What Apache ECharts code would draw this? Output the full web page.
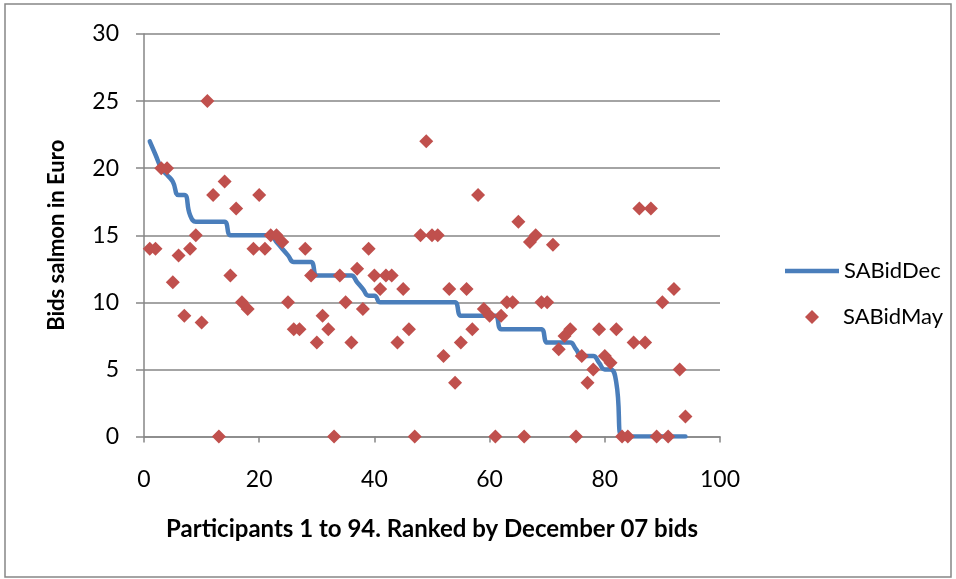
<!DOCTYPE html>
<html>
<head>
<meta charset="utf-8">
<script src="https://cdn.jsdelivr.net/npm/echarts@6/dist/echarts.min.js"></script>
<style>
  html, body { margin: 0; padding: 0; background: #ffffff; }
  #chart { width: 956px; height: 579px; }
</style>
</head>
<body>
<div id="chart"></div>
<script>
// December 07 bids, participants ranked 1..94
const bidDec = [
  22, 21, 20, 19.5, 19, 18, 18, 16.5, 16, 16,
  16, 16, 16, 16, 15, 15, 15, 15, 15, 15,
  15, 15, 14.5, 14, 13.5, 13, 13, 13, 13, 12,
  12, 12, 12, 12, 12, 12, 11.5, 11, 10.5, 10.5,
  10, 10, 10, 10, 10, 10, 10, 10, 10, 10,
  10, 10, 10, 10, 9, 9, 9, 9, 9, 9,
  9, 8, 8, 8, 8, 8, 8, 8, 8, 7,
  7, 7, 7, 7, 6.5, 6, 6, 6, 5.5, 5,
  5, 4, 0, 0, 0, 0, 0, 0, 0, 0,
  0, 0, 0, 0
];

// May bids of the same participants, in the same order
const bidMay = [
  14, 14, 20, 20, 11.5, 13.5, 9, 14, 15, 8.5,
  25, 18, 0, 19, 12, 17, 10, 9.5, 14, 18,
  14, 15, 15, 14.5, 10, 8, 8, 14, 12, 7,
  9, 8, 0, 12, 10, 7, 12.5, 9.5, 14, 12,
  11, 12, 12, 7, 11, 8, 0, 15, 22, 15,
  15, 6, 11, 4, 7, 11, 8, 18, 9.5, 9,
  0, 9, 10, 10, 16, 0, 14.5, 15, 10, 10,
  14.3, 6.5, 7.5, 8, 0, 6, 4, 5, 8, 6,
  5.5, 8, 0, 0, 7, 17, 7, 17, 0, 10,
  0, 11, 5, 1.5
];

const xTicks = { min: 0, max: 100, interval: 20 };
const yTicks = { min: 0, max: 30, interval: 5 };

const decPoints = bidDec.map((v, i) => [i + 1, v]);
const mayPoints = bidMay.map((v, i) => [i + 1, v]);

const FONT = 'Lato, "Open Sans", sans-serif';
const AXIS_GREY = '#868686';
const BLUE = '#4A7EBB';
const RED = '#C0504D';

const chart = echarts.init(document.getElementById('chart'), null, { renderer: 'canvas' });

chart.setOption({
  backgroundColor: '#ffffff',
  animation: false,
  textStyle: { fontFamily: FONT },
  graphic: [{
    type: 'rect',
    shape: { x: 5, y: 4, width: 946, height: 573 },
    style: { fill: 'none', stroke: AXIS_GREY, lineWidth: 1.5 },
    silent: true,
    z: -1
  }],
  grid: { left: 144, right: 236, top: 34, bottom: 142.5, containLabel: false },
  legend: [{
    data: [{ name: 'SABidDec', icon: 'rect' }],
    orient: 'vertical',
    left: 780,
    top: 255,
    itemWidth: 54,
    itemHeight: 4.5,
    itemStyle: { color: BLUE },
    textStyle: { fontFamily: FONT, fontSize: 22, color: '#000' }
  }, {
    data: ['SABidMay'],
    orient: 'vertical',
    left: 800,
    top: 301,
    itemWidth: 14,
    itemHeight: 14,
    itemStyle: { color: RED, opacity: 1 },
    textStyle: { fontFamily: FONT, fontSize: 22, color: '#000', padding: [0, 0, 0, 19] }
  }],
  xAxis: {
    type: 'value',
    min: xTicks.min,
    max: xTicks.max,
    interval: xTicks.interval,
    name: 'Participants 1 to 94. Ranked by December 07 bids',
    nameLocation: 'middle',
    nameGap: 81,
    nameTextStyle: { fontFamily: FONT, fontSize: 24, fontWeight: 'bold', color: '#000' },
    axisLine: { show: true, lineStyle: { color: AXIS_GREY, width: 1.5 } },
    axisTick: { show: true, length: 6, lineStyle: { color: AXIS_GREY, width: 1.5 } },
    axisLabel: { margin: 32, fontFamily: FONT, fontSize: 23, color: '#000' },
    splitLine: { show: false }
  },
  yAxis: {
    type: 'value',
    min: yTicks.min,
    max: yTicks.max,
    interval: yTicks.interval,
    name: 'Bids salmon in Euro',
    nameLocation: 'middle',
    nameGap: 76,
    nameRotate: 90,
    nameTextStyle: { fontFamily: FONT, fontSize: 22, fontWeight: 'bold', color: '#000' },
    axisLine: { show: true, lineStyle: { color: AXIS_GREY, width: 1.5 } },
    axisTick: { show: true, length: 8, lineStyle: { color: AXIS_GREY, width: 1.5 } },
    axisLabel: { margin: 25, fontFamily: FONT, fontSize: 23, color: '#000' },
    splitLine: { show: true, lineStyle: { color: AXIS_GREY, width: 1.5 } }
  },
  series: [{
    name: 'SABidDec',
    type: 'line',
    data: decPoints,
    smooth: 0.5,
    showSymbol: false,
    symbol: 'none',
    color: BLUE,
    lineStyle: { color: BLUE, width: 4.5, cap: 'round', join: 'round' },
    z: 2
  }, {
    name: 'SABidMay',
    type: 'scatter',
    data: mayPoints,
    symbol: 'diamond',
    symbolSize: 14,
    color: RED,
    itemStyle: { color: RED, opacity: 1 },
    z: 3
  }]
});
</script>
</body>
</html>
